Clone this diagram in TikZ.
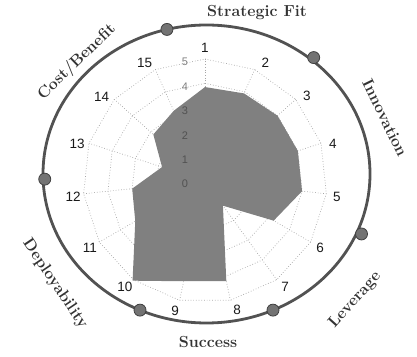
\documentclass[tikz,border=0pt]{standalone}
\usepackage{amsfonts,amsmath}
\usepackage{fontspec}
\newfontfamily\arialfont{Liberation Sans}
\usepackage {tikz}
\usetikzlibrary{shapes,arrows, positioning}

\begin{document}
\begin{tikzpicture}[x=1pt, y=1pt, line width = 0.5 pt,
spoke/.style={dotted, draw=black!35, line width=0.7pt},
score/.style={fill=black!50},
num/.style={font=\arialfont\fontsize{13.5}{14}\selectfont, text=black!90},
tick/.style={font=\arialfont\fontsize{11}{11}\selectfont, text=black!50},
crit/.style={font=\fontsize{16}{16}\selectfont\bfseries, text=black!80},
rim/.style={draw=black!68, line width=2.8pt},
knob/.style={circle, draw=black!75, fill=black!55, line width=0.8pt, minimum size=12pt, inner sep=0pt}]

\useasboundingbox (0,0) rectangle (417,356);

\begin{scope}[shift={(206.5,182)}, x=163.5pt, y=149pt]
\draw [rim] (0,0) ellipse [x radius=163.5pt, y radius=149pt];
\node [knob] (k1) at (104:1) {};
\node [knob] (k2) at (50:1.02) {};
\node [knob] (k3) at (-23:1.03) {};
\node [knob] (k4) at (-66:1) {};
\node [knob] (k5) at (-114:1) {};
\node [knob] (k6) at (182:0.99) {};
\end{scope}

\begin{scope}[shift={(205,175)}, x=24.4pt, y=24.4pt]
\foreach \r in {1,...,5}
  \draw [spoke] (90:\r) \foreach \a in {66,42,...,-246} { -- (\a:\r) } -- cycle;
\foreach \a in {90,66,...,-246}
  \draw [spoke] (0,0) -- (\a:5);

\fill [score] (90:3.85) -- (66:3.93) -- (42:4) -- (18:4) -- (-6:4) -- (-30:3.25)
  -- (-54:1.25) -- (-78:4.2) -- (-102:4.2) -- (-126:5.05) -- (-150:3.3)
  -- (-174:3) -- (162:1.85) -- (138:2.85) -- (114:3.15) -- cycle;

\foreach \r in {0,...,3}
  \node [tick, text=black!68] (t\r) at (-0.82,\r-0.13) {\r};
\foreach \r in {4,5}
  \node [tick] (t\r) at (-0.82,\r-0.13) {\r};

\foreach \i/\a in {1/90, 2/63, 3/40, 4/16, 5/-7, 6/-30, 7/-53, 8/-76,
  9/-103, 10/-127, 11/-150, 12/-173, 13/164, 14/141, 15/117}
  \node [num] (n\i) at (\a:5.45) {\i};
\end{scope}

\node [crit] (fit) at (257,343) {Strategic Fit};
\node [crit, rotate=-64] (innov) at (385,238) {Innovation};
\node [crit, rotate=48] (lever) at (355,56) {Leverage};
\node [crit] (succ) at (208,14) {Success};
\node [crit, rotate=-56] (deploy) at (55,72) {Deployability};
\node [crit, rotate=44] (cost) at (77,294) {Cost/Benefit};

\end{tikzpicture}
\end{document}
